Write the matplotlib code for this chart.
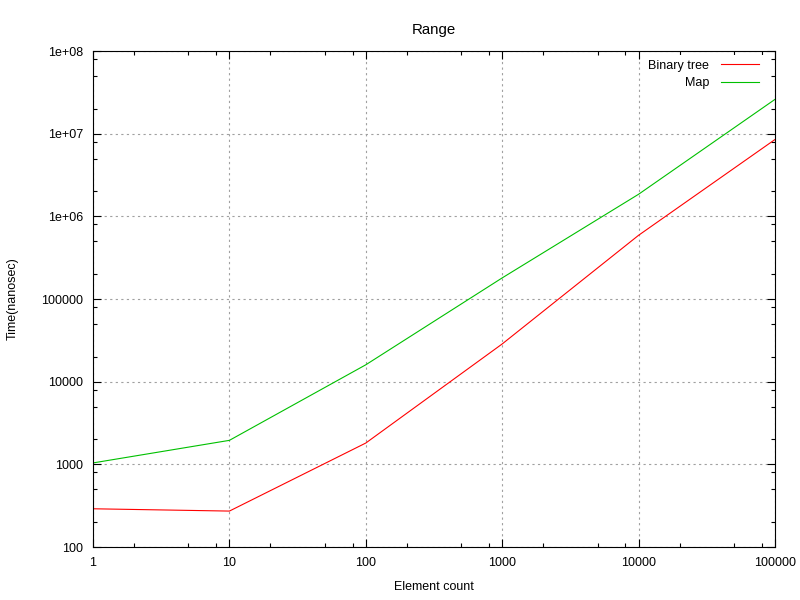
import numpy as np
import matplotlib.pyplot as plt
from matplotlib.ticker import FixedLocator, FixedFormatter, NullFormatter

plt.rcParams['font.family'] = ['Liberation Sans', 'DejaVu Sans']
plt.rcParams['font.size'] = 9

# data
element_count = [1, 10, 100, 1000, 10000, 100000]
binary_tree = [290, 272, 1810, 28600, 590000, 8.5e6]
map_times = [1040, 1950, 16000, 180000, 1.85e6, 2.6e7]

x_ticks = [1, 10, 100, 1000, 10000, 100000]
x_labels = ['1', '10', '100', '1000', '10000', '100000']
y_ticks = [100, 1000, 10000, 100000, 1e6, 1e7, 1e8]
y_labels = ['100', '1000', '10000', '100000', '1e+06', '1e+07', '1e+08']

fig = plt.figure(figsize=(8, 6), dpi=100)
ax = fig.add_axes([93 / 800, 1 - 547 / 600, (775 - 93) / 800, (547 - 51) / 600])

ax.plot(element_count, binary_tree, color='#ff0000', lw=0.8, label='Binary tree')
ax.plot(element_count, map_times, color='#00c000', lw=0.8, label='Map')

ax.set_xscale('log')
ax.set_yscale('log')
ax.set_xlim(1, 100000)
ax.set_ylim(100, 1e8)

ax.xaxis.set_major_locator(FixedLocator(x_ticks))
ax.xaxis.set_major_formatter(FixedFormatter(x_labels))
ax.yaxis.set_major_locator(FixedLocator(y_ticks))
ax.yaxis.set_major_formatter(FixedFormatter(y_labels))

minors_x = [m * 10 ** d for d in range(0, 5) for m in (2, 5, 8)]
minors_y = [m * 10 ** d for d in range(2, 8) for m in (2, 5, 8)]
ax.xaxis.set_minor_locator(FixedLocator(minors_x))
ax.yaxis.set_minor_locator(FixedLocator(minors_y))
ax.xaxis.set_minor_formatter(NullFormatter())
ax.yaxis.set_minor_formatter(NullFormatter())

ax.tick_params(which='both', direction='in', top=True, right=True, width=0.8)
ax.tick_params(which='major', length=6, pad=7)
ax.tick_params(which='minor', length=3)
for s in ax.spines.values():
    s.set_linewidth(0.8)

ax.grid(True, which='major', color='#a0a0a0', linestyle=(0, (2, 3)), lw=0.8)

ax.set_title('Range', pad=12)
ax.set_xlabel('Element count', labelpad=9)
ax.set_ylabel('Time(nanosec)', labelpad=16)

leg = ax.legend(loc='upper right', bbox_to_anchor=(1 - 7 / 682, 1),
                markerfirst=False, frameon=True, fancybox=False,
                edgecolor='none', facecolor='white', framealpha=1,
                handlelength=3.1, handletextpad=0.9, labelspacing=0.45,
                borderaxespad=0.3, borderpad=0.4)

fig.savefig('out.png', dpi=100)
